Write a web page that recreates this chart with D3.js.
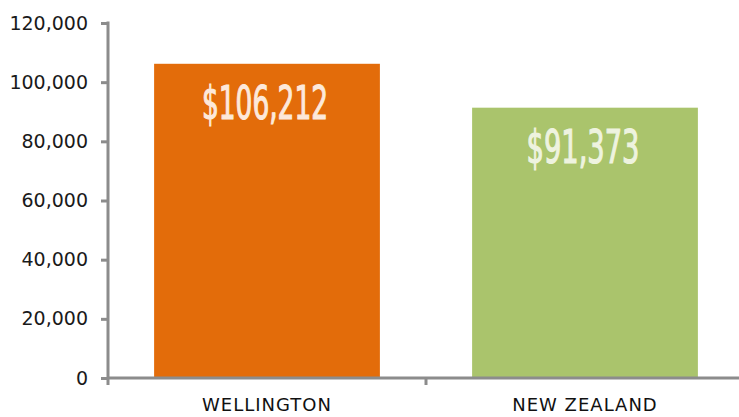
<!DOCTYPE html>
<html>
<head>
<meta charset="utf-8">
<script src="https://cdn.jsdelivr.net/npm/d3@7"></script>
<style>
  body { margin: 0; background: #fff; }
  svg { display: block; }
</style>
</head>
<body>
<div id="chart"></div>
<script>
// Chart data
const categories = ["WELLINGTON", "NEW ZEALAND"]
const values = [106212, 91373]
const yTicks = [0, 20000, 40000, 60000, 80000, 100000, 120000]
const valueLabels = ["$106,212", "$91,373"]

const W = 739, H = 417
const plotLeft = 108, plotRight = 744, plotTop = 23, plotBottom = 378

const svg = d3.select("#chart").append("svg")
    .attr("width", W)
    .attr("height", H)

const yScale = d3.scaleLinear().domain([0, 120000]).range([plotBottom, plotTop])
const xScale = d3.scaleBand().domain(categories).range([plotLeft, plotRight]).padding(0)

const barColors = ["#e36c0a", "#aac46c"]
const labelColors = ["#fde9da", "#eef3df"]
const axisColor = "#8c8c8c"

// Bars
const barFrac = 0.71
svg.append("g")
    .selectAll("rect")
    .data(categories)
    .enter()
    .append("rect")
    .attr("x", d => xScale(d) + xScale.bandwidth() * (1 - barFrac) / 2)
    .attr("width", xScale.bandwidth() * barFrac)
    .attr("y", (d, i) => yScale(values[i]))
    .attr("height", (d, i) => plotBottom - yScale(values[i]))
    .style("fill", (d, i) => barColors[i])

// Value labels inside bars
const labelWidths = [126, 113]
svg.append("g")
    .selectAll("text")
    .data(categories)
    .enter()
    .append("text")
    .attr("x", d => xScale(d) + xScale.bandwidth() / 2 - 2)
    .attr("y", (d, i) => yScale(values[i]) + 55)
    .attr("text-anchor", "middle")
    .attr("font-family", "'DejaVu Sans Condensed', 'Liberation Sans Narrow', sans-serif")
    .attr("font-size", 46)
    .attr("textLength", (d, i) => labelWidths[i])
    .attr("lengthAdjust", "spacingAndGlyphs")
    .style("fill", (d, i) => labelColors[i])
    .style("stroke", (d, i) => labelColors[i])
    .style("stroke-width", 1.2)
    .text((d, i) => valueLabels[i])

// Y axis
const yAxis = svg.append("g")
    .attr("transform", `translate(${plotLeft},0)`)
    .call(d3.axisLeft(yScale).tickValues(yTicks).tickSize(7).tickPadding(13)
        .tickFormat(d3.format(",")))
yAxis.select(".domain").remove()
yAxis.selectAll(".tick line").attr("stroke", axisColor).attr("stroke-width", 3)
yAxis.selectAll(".tick text")
    .attr("font-family", "'DejaVu Sans', sans-serif")
    .attr("font-size", 19)
    .style("fill", "#1a1a1a")
yAxis.append("line")
    .attr("x1", 0).attr("x2", 0)
    .attr("y1", plotTop - 1.5).attr("y2", plotBottom + 7)
    .attr("stroke", axisColor).attr("stroke-width", 3)

// X axis
const xAxis = svg.append("g")
xAxis.append("line")
    .attr("x1", plotLeft).attr("x2", plotRight)
    .attr("y1", plotBottom).attr("y2", plotBottom)
    .attr("stroke", axisColor).attr("stroke-width", 3)
xAxis.selectAll(".xtick")
    .data(categories.slice(1))
    .enter()
    .append("line")
    .attr("x1", d => xScale(d)).attr("x2", d => xScale(d))
    .attr("y1", plotBottom).attr("y2", plotBottom + 7)
    .attr("stroke", axisColor).attr("stroke-width", 3)
xAxis.selectAll(".xlabel")
    .data(categories)
    .enter()
    .append("text")
    .attr("x", d => xScale(d) + xScale.bandwidth() / 2)
    .attr("y", 411)
    .attr("text-anchor", "middle")
    .attr("font-family", "'DejaVu Sans', sans-serif")
    .attr("font-size", 18)
    .attr("letter-spacing", 1)
    .style("fill", "#111")
    .text(d => d)
</script>
</body>
</html>
